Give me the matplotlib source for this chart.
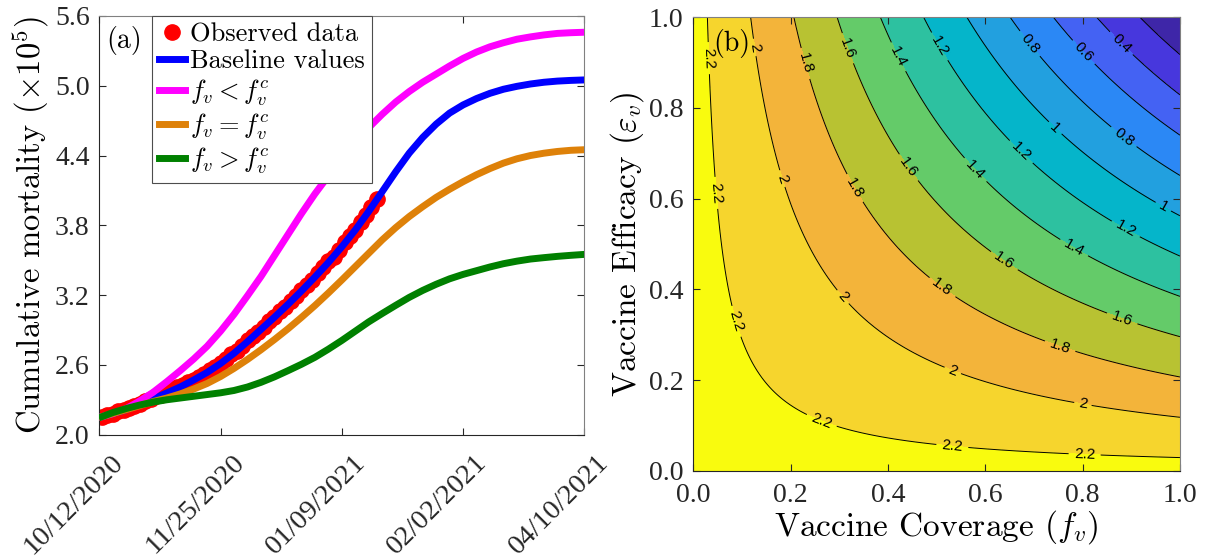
import numpy as np
import matplotlib.pyplot as plt
from matplotlib.transforms import ScaledTranslation

plt.rcParams['mathtext.fontset'] = 'cm'
plt.rcParams['axes.formatter.use_mathtext'] = True

# ---- panel (a): cumulative mortality (x 10^5) ----
date_ticks = [0, 45, 90, 135, 180]
date_labels = ['10/12/2020', '11/25/2020', '01/09/2021', '02/02/2021', '04/10/2021']

days = [1] + list(range(5, 181, 5))
baseline = [2.155, 2.181, 2.215, 2.26, 2.31, 2.358, 2.41, 2.47, 2.535, 2.612, 2.70, 2.80,
            2.905, 3.01, 3.12, 3.235, 3.355, 3.48, 3.615, 3.76, 3.92, 4.09, 4.26, 4.42,
            4.555, 4.67, 4.765, 4.835, 4.89, 4.935, 4.97, 4.995, 5.015, 5.03, 5.04, 5.046, 5.05]
fv_below = [2.155, 2.18, 2.225, 2.29, 2.365, 2.455, 2.55, 2.65, 2.76, 2.89, 3.035, 3.195,
            3.36, 3.54, 3.72, 3.90, 4.07, 4.225, 4.37, 4.51, 4.64, 4.755, 4.86, 4.95, 5.03,
            5.10, 5.17, 5.235, 5.29, 5.335, 5.37, 5.40, 5.42, 5.437, 5.45, 5.456, 5.46]
fv_equal = [2.155, 2.182, 2.215, 2.25, 2.285, 2.315, 2.35, 2.392, 2.44, 2.50, 2.57, 2.647,
            2.73, 2.818, 2.91, 3.008, 3.11, 3.218, 3.33, 3.445, 3.56, 3.675, 3.78, 3.875,
            3.96, 4.04, 4.11, 4.175, 4.235, 4.288, 4.335, 4.372, 4.40, 4.42, 4.435, 4.445, 4.45]
fv_above = [2.155, 2.19, 2.225, 2.255, 2.28, 2.30, 2.315, 2.33, 2.345, 2.36, 2.38, 2.41,
            2.45, 2.497, 2.55, 2.605, 2.665, 2.735, 2.81, 2.89, 2.97, 3.042, 3.112, 3.18,
            3.24, 3.293, 3.34, 3.378, 3.41, 3.442, 3.47, 3.492, 3.51, 3.522, 3.533, 3.542, 3.55]

obs_days = list(range(1, 104, 2))
obs_vals = [2.155, 2.17, 2.18, 2.20, 2.21, 2.23, 2.25, 2.26, 2.29, 2.31, 2.33, 2.34, 2.37,
            2.39, 2.41, 2.43, 2.45, 2.47, 2.50, 2.52, 2.56, 2.58, 2.62, 2.65, 2.69, 2.72,
            2.76, 2.81, 2.85, 2.88, 2.93, 2.98, 3.01, 3.06, 3.10, 3.15, 3.19, 3.24, 3.29,
            3.33, 3.39, 3.44, 3.49, 3.53, 3.59, 3.66, 3.71, 3.76, 3.83, 3.89, 3.96, 4.03]

# ---- panel (b): contour over coverage / efficacy ----
r_origin = 2.265      # value at f_v = 0, eps_v = 0
r_drop = 2.25         # fall in value from (0,0) to (1,1)
levels = [0.2, 0.4, 0.6, 0.8, 1.0, 1.2, 1.4, 1.6, 1.8, 2.0, 2.2]
band_colors = ['#3e26a8', '#4737dd', '#4462f3', '#2b88f5', '#22a0df', '#05b5ca',
               '#2dc1a0', '#64cb69', '#b8c232', '#f3b43a', '#f6d52d', '#f9fb0e']
label_spots = [(0.032, 0.91), (0.116, 0.932), (0.22, 0.895), (0.308, 0.928), (0.416, 0.91),
               (0.50, 0.932), (0.688, 0.939), (0.796, 0.917), (0.876, 0.939),
               (0.04, 0.612), (0.176, 0.642), (0.32, 0.616), (0.44, 0.667), (0.572, 0.656),
               (0.668, 0.697), (0.74, 0.752), (0.88, 0.73), (0.964, 0.579), (0.888, 0.532),
               (0.304, 0.38), (0.508, 0.399), (0.636, 0.458), (0.776, 0.48),
               (0.084, 0.328), (0.532, 0.218), (0.752, 0.269), (0.88, 0.332),
               (0.264, 0.111), (0.532, 0.052), (0.80, 0.144), (0.804, 0.033)]

axis_col = '#262626'
tick_font = 'Liberation Serif'

fig = plt.figure(figsize=(12.1, 5.6), dpi=100)
ax1 = fig.add_axes([0.0821, 0.2238, 0.4008, 0.7477])
ax2 = fig.add_axes([0.573, 0.1595, 0.4022, 0.8096])

ax1.plot(obs_days, obs_vals, 'o', color='red', ms=11, label='Observed data', zorder=2)
ax1.plot(days, baseline, '-', color='blue', lw=5, label='Baseline values', zorder=3)
ax1.plot(days, fv_below, '-', color='magenta', lw=5, label=r'$f_v < f_v^c$', zorder=3)
ax1.plot(days, fv_equal, '-', color='#de8109', lw=5, label=r'$f_v = f_v^c$', zorder=3)
ax1.plot(days, fv_above, '-', color='green', lw=5, label=r'$f_v > f_v^c$', zorder=3)

ax1.set_xlim(0, 180)
ax1.set_ylim(2.0, 5.6)
ax1.set_xticks(date_ticks)
ax1.set_xticklabels(date_labels, rotation=45, ha='right', va='top', rotation_mode='anchor')
ax1.set_yticks([2.0, 2.6, 3.2, 3.8, 4.4, 5.0, 5.6])
ax1.set_yticklabels(['%.1f' % v for v in [2.0, 2.6, 3.2, 3.8, 4.4, 5.0, 5.6]])
ax1.set_ylabel(r'Cumulative mortality $(\times 10^5)$', family='cmr10', fontsize=23.5,
               labelpad=3)
ax1.text(0.015, 0.975, '(a)', transform=ax1.transAxes, family='cmr10', fontsize=20,
         va='top', ha='left')
leg = ax1.legend(loc='upper left', bbox_to_anchor=(0.109, 1.0), borderaxespad=0,
                 prop={'family': 'cmr10', 'size': 19}, handlelength=1.0, handletextpad=0.2,
                 labelspacing=0.13, borderpad=0.25, fancybox=False, framealpha=1,
                 edgecolor='#4d4d4d')
leg.get_frame().set_linewidth(0.8)

grid = np.linspace(0, 1, 301)
surface = r_origin - r_drop * np.outer(grid, grid)
ax2.contourf(grid, grid, surface, levels=[-1] + levels + [3], colors=band_colors)
cl = ax2.contour(grid, grid, surface, levels=levels, colors='black', linewidths=0.7)
ax2.clabel(cl, fmt='%g', fontsize=11, inline=True, inline_spacing=4, manual=label_spots)
for t in cl.labelTexts:
    t.set_family('Liberation Sans')

ticks01 = np.arange(0, 1.01, 0.2)
ax2.set_xlim(0, 1)
ax2.set_ylim(0, 1)
ax2.set_xticks(ticks01)
ax2.set_yticks(ticks01)
ax2.set_xticklabels(['%.1f' % v for v in ticks01])
ax2.set_yticklabels(['%.1f' % v for v in ticks01])
ax2.set_xlabel(r'Vaccine Coverage $(f_v)$', family='cmr10', fontsize=24, labelpad=0)
ax2.set_ylabel(r'Vaccine Efficacy $(\varepsilon_v)$', family='cmr10', fontsize=24, labelpad=2)
ax2.text(0.04, 0.975, '(b)', transform=ax2.transAxes, family='cmr10', fontsize=20,
         va='top', ha='left')

for ax in (ax1, ax2):
    ax.tick_params(direction='in', top=True, right=True, length=5, width=0.8,
                   labelsize=20, colors=axis_col, pad=7)
    for lab in ax.get_xticklabels() + ax.get_yticklabels():
        lab.set_family(tick_font)
    for side in ('left', 'bottom'):
        ax.spines[side].set_color(axis_col)
    for side in ('top', 'right'):
        ax.spines[side].set_color('#808080')
    for sp in ax.spines.values():
        sp.set_linewidth(0.8)
ax2.tick_params(axis='x', pad=9)
ax1.tick_params(axis='x', pad=11, labelsize=20.5)
shift = ScaledTranslation(0.115, 0, fig.dpi_scale_trans)
for lab in ax1.get_xticklabels():
    lab.set_transform(lab.get_transform() + shift)

fig.savefig('out.png', dpi=100)
